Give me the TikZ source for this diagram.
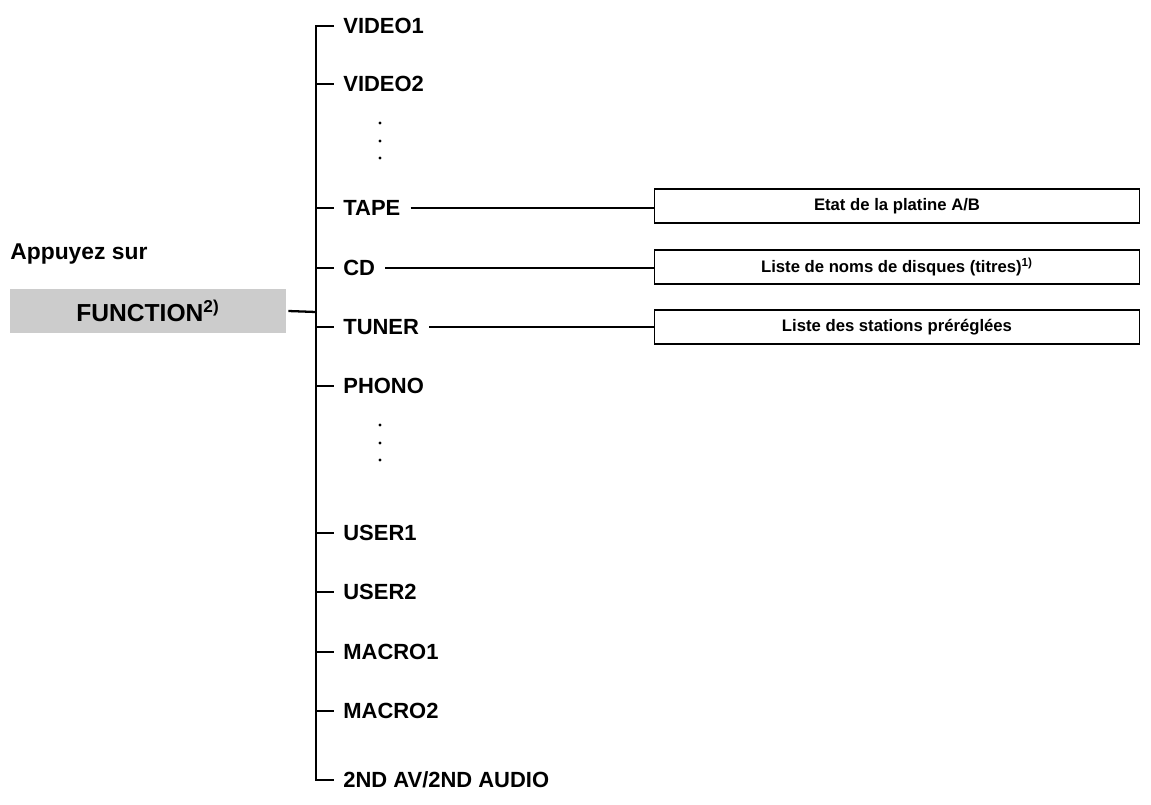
\documentclass[tikz,border=0pt]{standalone}
\usepackage{fontspec}
\setmainfont{Liberation Sans}
\usetikzlibrary{positioning}

\tikzset{
  item/.style = {anchor=west, inner sep=0pt, font=\bfseries\fontsize{12.5}{14}\selectfont},
  infobox/.style = {draw, line width=1pt, minimum width=9.7cm, minimum height=0.68cm, inner sep=0pt, font=\bfseries\fontsize{9.5}{11}\selectfont},
  tree/.style = {line width=1.3pt}
}

\begin{document}
\begin{tikzpicture}[x=0.02cm, y=-0.02cm]
\useasboundingbox (0,0) rectangle (1151,804);
% main button
\node[fill=black!20, minimum width=5.52cm, minimum height=0.88cm, inner sep=0pt,
      font=\bfseries\fontsize{14}{16}\selectfont] (fn) at (148,311) {FUNCTION\textsuperscript{2)}};
\node[item, font=\bfseries\fontsize{13}{15}\selectfont] (press) at (10,254) {Appuyez sur};
% tree
\coordinate (top) at (316,26);
\coordinate (bot) at (316,780);
\coordinate (join) at (316,312);
\draw[tree] (334,26) -- (top) -- (bot) -- (334,780);
\draw[tree] (fn.east) ++(2,0) -- (join);
\foreach \name/\txt/\y in {v1/VIDEO1/26, v2/VIDEO2/84, tape/TAPE/208, cd/CD/268,
    tuner/TUNER/327, phono/PHONO/386, u1/USER1/533, u2/USER2/592,
    m1/MACRO1/652, m2/MACRO2/711, av/{2ND AV/2ND AUDIO}/780}{
  \node[item] (\name) at (343,\y) {\txt};
}
\foreach \y in {84,208,268,327,386,533,592,652,711}
  \draw[tree] (316,\y) -- (334,\y);
% dots
\foreach \y in {123,141,158,425,443,460}
  \fill (380,\y) circle (1.6);
% info boxes
\node[infobox] (tapebox) at (897,206) {Etat de la platine A/B};
\node[infobox] (cdbox) at (897,267) {Liste de noms de disques (titres)\textsuperscript{1)}};
\node[infobox] (tunerbox) at (897,327) {Liste des stations préréglées};
\draw[tree] (tape.east) ++(10,0) -- (tapebox.west |- tape.east);
\draw[tree] (cd.east) ++(10,0) -- (cdbox.west |- cd.east);
\draw[tree] (tuner.east) ++(10,0) -- (tunerbox.west |- tuner.east);
\end{tikzpicture}
\end{document}
